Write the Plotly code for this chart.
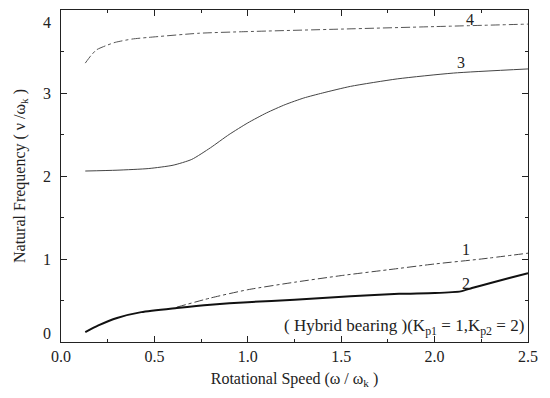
import plotly.graph_objects as go

# Data
x_mode4 = [0.13, 0.16, 0.19, 0.24, 0.29, 0.38, 0.47, 0.74, 1.0, 1.5, 2.0, 2.5]
y_mode4 = [3.36, 3.45, 3.52, 3.57, 3.61, 3.65, 3.67, 3.72, 3.74, 3.77, 3.80, 3.83]

x_mode3 = [0.13, 0.3, 0.47, 0.6, 0.7, 0.8, 0.9, 1.0, 1.1, 1.2, 1.3, 1.4, 1.55, 1.8, 2.1, 2.5]
y_mode3 = [2.06, 2.07, 2.09, 2.13, 2.20, 2.34, 2.50, 2.64, 2.76, 2.86, 2.94, 3.00, 3.08, 3.17, 3.24, 3.29]

x_mode1 = [0.62, 0.8, 1.0, 1.25, 1.5, 1.75, 2.0, 2.25, 2.5]
y_mode1 = [0.42, 0.53, 0.63, 0.72, 0.80, 0.87, 0.94, 1.00, 1.07]

x_mode2 = [0.13, 0.2, 0.3, 0.43, 0.62, 0.8, 1.0, 1.25, 1.55, 1.81, 2.0, 2.14, 2.2, 2.3, 2.4, 2.5]
y_mode2 = [0.12, 0.20, 0.29, 0.36, 0.41, 0.45, 0.48, 0.51, 0.55, 0.58, 0.59, 0.61, 0.65, 0.71, 0.77, 0.83]

x_ticks = [0.0, 0.5, 1.0, 1.5, 2.0, 2.5]
x_tick_labels = ["0.0", "0.5", "1.0", "1.5", "2.0", "2.5"]
y_ticks = [0, 1, 2, 3, 4]
y_tick_labels = ["0", "1", "2", "3", "4"]

mode_labels = ["4", "3", "1", "2"]
mode_label_x = [2.19, 2.14, 2.17, 2.17]
mode_label_y = [3.88, 3.37, 1.12, 0.71]

FONT = "Liberation Serif"
INK = "#222222"

fig = go.Figure()
fig.add_trace(go.Scatter(x=x_mode4, y=y_mode4, mode="lines", line=dict(color="#555555", width=1, dash="dashdot", shape="spline", smoothing=0.6), showlegend=False))
fig.add_trace(go.Scatter(x=x_mode3, y=y_mode3, mode="lines", line=dict(color="#444444", width=1, shape="spline", smoothing=0.6), showlegend=False))
fig.add_trace(go.Scatter(x=x_mode1, y=y_mode1, mode="lines", line=dict(color="#444444", width=1, dash="dashdot", shape="spline", smoothing=0.6), showlegend=False))
fig.add_trace(go.Scatter(x=x_mode2, y=y_mode2, mode="lines", line=dict(color="#111111", width=2, shape="spline", smoothing=0.6), showlegend=False))

for t, xx, yy in zip(mode_labels, mode_label_x, mode_label_y):
    fig.add_annotation(x=xx, y=yy, text=t, showarrow=False, font=dict(family=FONT, size=16, color=INK))

fig.add_annotation(x=2.49, y=0.18, xanchor="right", text="( Hybrid bearing )(K<sub>p1</sub> = 1,K<sub>p2</sub> = 2)",
                   showarrow=False, font=dict(family=FONT, size=17, color=INK))

# y tick labels (end labels nudged inward as in the reference)
n = len(y_ticks)
for i, (v, lab) in enumerate(zip(y_ticks, y_tick_labels)):
    shift = 9 if i == 0 else (-12 if i == n - 1 else 0)
    fig.add_annotation(xref="paper", x=0, y=v, xanchor="right", xshift=-8, yshift=shift, text=lab,
                       showarrow=False, font=dict(family=FONT, size=16, color=INK))

fig.update_xaxes(range=[0, 2.5], tickvals=x_ticks, ticktext=x_tick_labels, ticks="inside", ticklen=6,
                 showline=True, linecolor=INK, linewidth=1, mirror="ticks", showgrid=False, zeroline=False,
                 minor=dict(ticks="inside", ticklen=3, dtick=0.25, tickcolor=INK), tickcolor=INK,
                 title=dict(text="Rotational Speed (ω / ω<sub>k</sub> )", font=dict(family=FONT, size=16, color=INK), standoff=8),
                 tickfont=dict(family=FONT, size=16, color=INK))
fig.update_yaxes(range=[0, 4], tickvals=y_ticks, ticktext=y_tick_labels, showticklabels=False, ticks="inside", ticklen=6,
                 showline=True, linecolor=INK, linewidth=1, mirror="ticks", showgrid=False, zeroline=False,
                 minor=dict(ticks="inside", ticklen=3, dtick=0.5, tickcolor=INK), tickcolor=INK,
                 title=dict(text="Natural Frequency ( ν /ω<sub>k</sub> )", font=dict(family=FONT, size=16, color=INK), standoff=30),
                 tickfont=dict(family=FONT, size=16, color=INK))

fig.update_layout(width=550, height=398, margin=dict(l=61, r=22, t=10, b=56),
                  paper_bgcolor="white", plot_bgcolor="white")
fig.write_html("out.html")
